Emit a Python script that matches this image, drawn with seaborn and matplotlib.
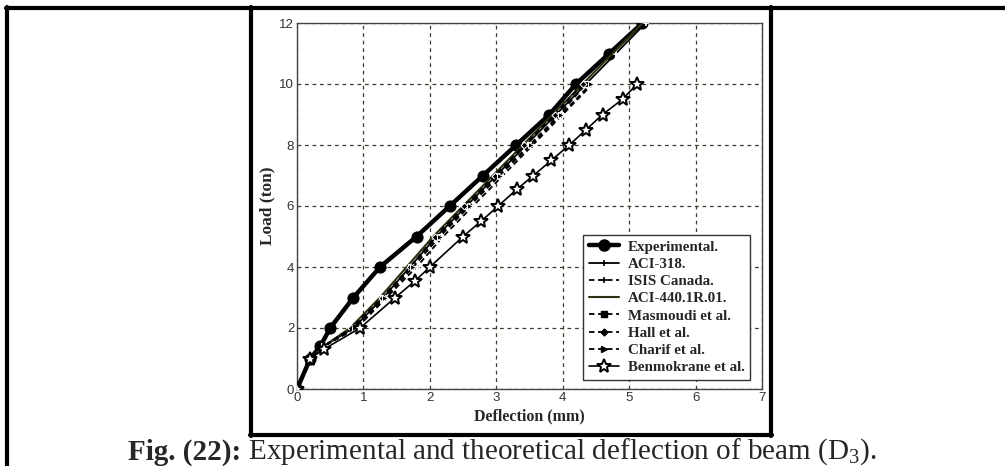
import matplotlib
matplotlib.use("Agg")
import matplotlib.pyplot as plt
import seaborn as sns
import pandas as pd
from matplotlib.lines import Line2D

sns.set_style("white")
plt.rcParams['font.family'] = ['Liberation Sans', 'DejaVu Sans']
plt.rcParams['mathtext.fontset'] = 'custom'
plt.rcParams['mathtext.rm'] = 'Liberation Serif'

# ---- data (deflection mm, load ton) ----
exp_x = [0, 0.2, 0.35, 0.5, 0.85, 1.25, 1.8, 2.3, 2.8, 3.3, 3.8, 4.2, 4.7, 5.2]
exp_y = [0, 1, 1.4, 2, 3, 4, 5, 6, 7, 8, 9, 10, 11, 12]

aci318_x = [0, 0.2, 0.4, 0.85, 1.3, 1.7, 2.1, 2.55, 3.0, 3.45, 3.9, 4.35, 4.8, 5.25]
aci318_y = [0, 1, 1.4, 2, 3, 4, 5, 6, 7, 8, 9, 10, 11, 12]

isis_x = [0, 0.2, 0.4, 0.9, 1.35, 1.8, 2.2, 2.65, 3.1, 3.55, 4.0, 4.45]
isis_y = [0, 1, 1.4, 2, 3, 4, 5, 6, 7, 8, 9, 10]

aci440_x = [0, 0.2, 0.4, 0.8, 1.25, 1.65, 2.05, 2.5, 2.95, 3.4, 3.85, 4.3, 4.75, 5.2]
aci440_y = [0, 1, 1.4, 2, 3, 4, 5, 6, 7, 8, 9, 10, 11, 12]

masmoudi_x = [0, 0.2, 0.4, 0.85, 1.3, 1.72, 2.12, 2.58, 3.02, 3.5, 3.95, 4.35]
masmoudi_y = [0, 1, 1.4, 2, 3, 4, 5, 6, 7, 8, 9, 10]

hall_x = [0, 0.2, 0.4, 0.82, 1.28, 1.7, 2.08, 2.52, 2.98, 3.42, 3.88, 4.3]
hall_y = [0, 1, 1.4, 2, 3, 4, 5, 6, 7, 8, 9, 10]

charif_x = [0, 0.2, 0.4, 0.88, 1.33, 1.75, 2.15, 2.6, 3.05, 3.52, 3.98, 4.42]
charif_y = [0, 1, 1.4, 2, 3, 4, 5, 6, 7, 8, 9, 10]

benm_x = [0, 0.2, 0.4, 0.95, 1.48, 1.78, 2.0, 2.5, 2.77, 3.03, 3.31, 3.56, 3.83, 4.1, 4.35, 4.6, 4.9, 5.12]
benm_y = [0, 1, 1.3, 2, 3, 3.55, 4, 5, 5.5, 6, 6.55, 7, 7.5, 8, 8.5, 9, 9.5, 10]

x_ticks = [0, 1, 2, 3, 4, 5, 6, 7]
y_ticks = [0, 2, 4, 6, 8, 10, 12]

series = [
    ("Experimental.", exp_x, exp_y, dict(color="black", lw=3.2, ls="-", marker="o", ms=8, mfc="black", mec="black")),
    ("ACI-318.", aci318_x, aci318_y, dict(color="black", lw=1.3, ls="-", marker="+", ms=5, mew=1.2)),
    ("ISIS Canada.", isis_x, isis_y, dict(color="black", lw=1.3, ls=(0, (3, 2)), marker="+", ms=5, mew=1.2)),
    ("ACI-440.1R.01.", aci440_x, aci440_y, dict(color="#2e2e14", lw=1.5, ls="-", marker=None)),
    ("Masmoudi et al.", masmoudi_x, masmoudi_y, dict(color="black", lw=1.3, ls=(0, (3, 2)), marker="s", ms=4)),
    ("Hall et al.", hall_x, hall_y, dict(color="black", lw=1.3, ls=(0, (3, 2)), marker="D", ms=3.5)),
    ("Charif et al.", charif_x, charif_y, dict(color="black", lw=1.3, ls=(0, (3, 2)), marker=">", ms=4)),
    ("Benmokrane et al.", benm_x, benm_y, dict(color="black", lw=1.2, ls="-", marker="*", ms=10, mfc="white", mec="black", mew=1.4)),
]

fig = plt.figure(figsize=(10.05, 4.66), dpi=100)
W, H = 1005, 466
ax = fig.add_axes([297 / W, (H - 389) / H, 465 / W, 366 / H])

handles = []
for name, xs, ys, st in series:
    df = pd.DataFrame({"x": xs, "y": ys})
    st = dict(st)
    color = st.pop("color")
    ls = st.pop("ls")
    lw = st.pop("lw")
    sns.lineplot(data=df, x="x", y="y", ax=ax, sort=False, estimator=None,
                 color=color, linestyle=ls, linewidth=lw, zorder=3, **st)
    handles.append(Line2D([], [], color=color, linestyle=ls, linewidth=lw, **st))

ax.set_xlim(0, 7)
ax.set_ylim(0, 12)
ax.set_xticks(x_ticks)
ax.set_yticks(y_ticks)
ax.set_xticklabels([str(v) for v in x_ticks])
ax.set_yticklabels([str(v) for v in y_ticks])
ax.tick_params(axis="both", direction="in", length=3, labelsize=9.5, colors="#333333", pad=2)
ax.grid(True, color="#3c3c28", linestyle=(0, (3, 3)), linewidth=0.9)
for s in ax.spines.values():
    s.set_color("#444444")
    s.set_linewidth(1.0)
ax.set_xlabel("Deflection (mm)", family="Liberation Serif", fontweight="bold", fontsize=11.5, labelpad=3)
ax.set_ylabel("Load (ton)", family="Liberation Serif", fontweight="bold", fontsize=12.5, labelpad=3)

leg = ax.legend(handles, [s[0] for s in series], loc="lower right",
                bbox_to_anchor=(0.99, 0.005), frameon=True, fancybox=False,
                prop={"family": "Liberation Serif", "weight": "bold", "size": 10.8},
                handlelength=2.0, labelspacing=0.25, borderpad=0.35, handletextpad=0.6)
leg.get_frame().set_edgecolor("#333333")
leg.get_frame().set_linewidth(1.0)
leg.get_frame().set_alpha(1)

# table borders
def hline(y, x0, x1):
    fig.add_artist(Line2D([x0 / W, x1 / W], [1 - y / H, 1 - y / H], color="black", lw=3, transform=fig.transFigure))

def vline(x, y0, y1):
    fig.add_artist(Line2D([x / W, x / W], [1 - y0 / H, 1 - y1 / H], color="black", lw=3, transform=fig.transFigure))

hline(8, 6, 1005)
vline(7, 7, 466)
vline(251, 7, 436)
vline(771, 7, 436)
hline(435, 250, 772)

# caption
cap_y = 1 - 452 / H
t1 = fig.text(0, cap_y, "Fig. (22):", family="Liberation Serif", fontweight="bold", fontsize=21, va="center", ha="left")
t2 = fig.text(0, cap_y, " Experimental and theoretical deflection of beam (D$_3$).", family="Liberation Serif", fontsize=21, va="center", ha="left")
fig.canvas.draw()
r = fig.canvas.get_renderer()
b1 = t1.get_window_extent(r)
b2 = t2.get_window_extent(r)
total = b1.width + b2.width
start = 502 - total / 2
t1.set_x(start / W)
t2.set_x((start + b1.width) / W)

fig.savefig("out.png", dpi=100)
